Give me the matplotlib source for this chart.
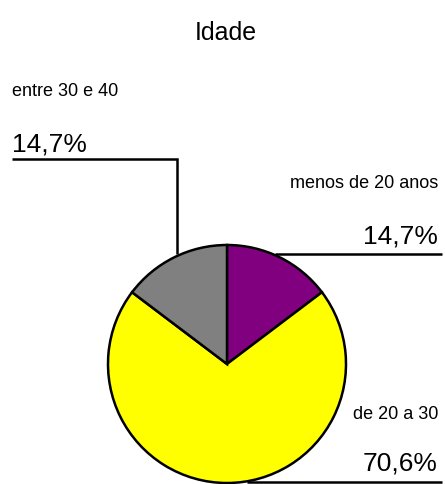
import numpy as np
import matplotlib
matplotlib.use("Agg")
import matplotlib.pyplot as plt

title = "Idade"
categories = ["menos de 20 anos", "de 20 a 30", "entre 30 e 40"]
values = [14.7, 70.6, 14.7]
pct_labels = ["14,7%", "70,6%", "14,7%"]
colors = ["#800080", "#FFFF00", "#808080"]

W, H = 445, 485
fig = plt.figure(figsize=(W / 100, H / 100), dpi=100)

cx, cy, R = 227, 365, 119  # pixel geometry of the pie (top-left origin)
pie_ax = fig.add_axes([(cx - R) / W, (H - cy - R) / H, 2 * R / W, 2 * R / H])
wedges, _ = pie_ax.pie(values, colors=colors, startangle=90, counterclock=False,
                       radius=1.0, wedgeprops=dict(edgecolor="black", linewidth=1.8))
pie_ax.set_xlim(-1, 1)
pie_ax.set_ylim(-1, 1)
pie_ax.set_aspect("equal")
pie_ax.axis("off")

ov = fig.add_axes([0, 0, 1, 1], zorder=5)
ov.set_xlim(0, W)
ov.set_ylim(H, 0)
ov.axis("off")

# mid-angles of wedges in pixel space
def mid_point(i):
    start = 90 - sum(values[:i]) / 100 * 360
    ang = np.deg2rad(start - values[i] / 100 * 360 / 2)
    return cx + R * np.cos(ang), cy - R * np.sin(ang)

font = ["Liberation Sans", "DejaVu Sans"]
small, big = 13, 19

ov.text(W / 2 + 3, 40, title, ha="center", va="baseline", fontsize=18, family=font)

# entre 30 e 40 (left)
x0, y0 = mid_point(2)
ov.plot([12, x0 + 3, x0 + 3], [160, 160, y0 - 3], color="black", lw=1.8,
        solid_joinstyle="miter", solid_capstyle="butt")
ov.text(12, 96, categories[2], ha="left", va="baseline", fontsize=small, family=font)
ov.text(12, 152, pct_labels[2], ha="left", va="baseline", fontsize=big, family=font)

# menos de 20 anos (right)
x1, y1 = mid_point(0)
ov.plot([x1 - 5, 442], [y1 - 3, y1 - 3], color="black", lw=1.8, solid_capstyle="butt")
ov.text(438, 188, categories[0], ha="right", va="baseline", fontsize=small, family=font)
ov.text(438, 244, pct_labels[0], ha="right", va="baseline", fontsize=big, family=font)

# de 20 a 30 (bottom right)
x2, y2 = mid_point(1)
ov.plot([x2 + 20, 442], [y2 - 1, y2 - 1], color="black", lw=1.8, solid_capstyle="butt")
ov.text(438, 419, categories[1], ha="right", va="baseline", fontsize=small, family=font)
ov.text(438, 471, pct_labels[1], ha="right", va="baseline", fontsize=big, family=font)

fig.savefig("out.png", dpi=100)
